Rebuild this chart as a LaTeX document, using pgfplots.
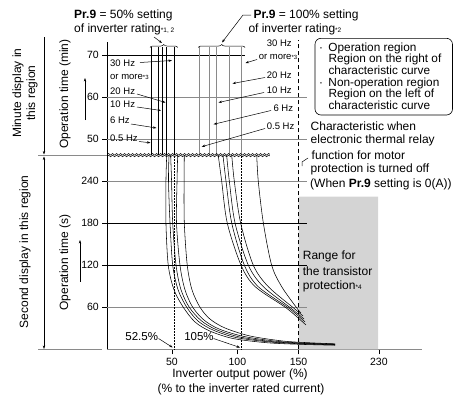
\documentclass[border=0pt]{standalone}
\usepackage{fontspec}
\setmainfont{Liberation Sans}
\usepackage{pgfplots}
\pgfplotsset{compat=1.18}
\usetikzlibrary{arrows.meta,decorations.pathreplacing,decorations.pathmorphing}
\definecolor{rg}{HTML}{D4D4D4}
\definecolor{gl}{HTML}{8A8A8A}
\newcommand{\fs}[1]{\fontsize{#1bp}{#1bp}\selectfont}
\tikzset{ar/.style={-{Stealth[length=3.5bp,width=2.4bp]}, line width=0.5bp}}
\begin{document}
\begin{tikzpicture}
\path[use as bounding box] (0bp,0bp) rectangle (454bp,-396bp);
\begin{axis}[
  at={(107.3bp,-349.3bp)}, anchor=south west, scale only axis,
  x=1.275bp, y=0.701bp,
  xmin=0, xmax=246.6, ymin=0, ymax=439,
  axis x line=bottom, axis y line=left,
  x axis line style={-, draw=gl, line width=0.8bp},
  y axis line style={-, line width=0.7bp},
  xtick={50.7,102,150,213},
  xticklabels={\textrm{50},\textrm{100},\textrm{150},\textrm{230}},
  ytick={60,120,180,240,299.6,359.5,419.6},
  yticklabels={\textrm{60},\textrm{120},\textrm{180},\textrm{240},\textrm{50},\textrm{60},\textrm{70}},
  tick align=outside, major tick length=5bp,
  tick style={black, line width=0.5bp},
  ticklabel style={font=\fs{10.5}},
  clip=false,
]
% transistor protection range
\addplot[fill=rg, draw=none] coordinates {(150,0) (150,217.7) (212.5,217.7) (212.5,0)} \closedcycle;
% horizontal grid lines
\addplot[gl, line width=0.8bp] coordinates {(0,60) (156.6,60)};
\addplot[black, line width=0.7bp] coordinates {(0,120) (156.6,120)};
\addplot[black, line width=0.7bp] coordinates {(0,180) (156.6,180)};
\addplot[gl, line width=0.8bp] coordinates {(0,240) (156.6,240)};
\addplot[gl, line width=0.8bp] coordinates {(0,299.6) (156.6,299.6)};
\addplot[gl, line width=0.8bp] coordinates {(0,359.5) (156.6,359.5)};
\addplot[black, line width=0.7bp] coordinates {(0,419.6) (108,419.6)};
% minute region: 50% setting (black)
\addplot[black, line width=0.7bp] coordinates {(34.8,277) (34.8,431.2)};
\addplot[black, line width=0.7bp] coordinates {(40.0,277) (40.0,431.2)};
\addplot[black, line width=0.7bp] coordinates {(43.1,277) (43.1,431.2)};
\addplot[black, line width=0.7bp] coordinates {(46.6,277) (46.6,431.2)};
\addplot[black, line width=0.7bp] coordinates {(52.5,277) (52.5,431.2)};
% minute region: 100% setting (gray)
\addplot[gl, line width=1bp] coordinates {(72.7,277) (72.7,431.2)};
\addplot[gl, line width=1bp] coordinates {(80.5,277) (80.5,431.2)};
\addplot[gl, line width=1bp] coordinates {(85.8,277) (85.8,431.2)};
\addplot[gl, line width=1bp] coordinates {(96.2,277) (96.2,431.2)};
\addplot[gl, line width=1bp] coordinates {(105.5,277) (105.5,431.2)};
% reference lines
\addplot[black, densely dotted, line width=0.5bp] coordinates {(52.5,0) (52.5,277)};
\addplot[black, densely dotted, line width=0.5bp] coordinates {(105,0) (105,277)};
\addplot[black, dash pattern=on 4bp off 3bp, line width=0.6bp] coordinates {(150,0) (150,441)};
% second region: 50% setting curves
\addplot[black, line width=0.55bp, smooth] coordinates {(46.6,277) (46.0,240) (46.0,180) (47.8,120) (52.3,85) (59.6,60) (68.8,39) (80.5,26) (98.6,15.4) (125,9.4) (151,7.1) (178.6,5.8)};
\addplot[black, line width=0.55bp, smooth] coordinates {(48.4,277) (48.0,240) (49.2,180) (51.3,120) (55.5,85) (62.3,60) (71.1,40.4) (82.9,27.5) (100.9,16.8) (127.6,10.4) (152.7,7.8) (178.6,6.4)};
\addplot[black, line width=0.55bp, smooth] coordinates {(49.7,277) (50.4,240) (51.3,180) (53.9,120) (57.8,85) (64.3,60) (73.5,41.1) (85.3,28.2) (104.1,17.5) (130.2,10.8) (154.3,8.3) (178.6,6.8)};
\addplot[black, line width=0.55bp, smooth] coordinates {(55.2,277) (54.7,240) (54.3,180) (57.0,120) (60.9,85) (67.0,60) (75.8,41.8) (87.6,29) (107.2,18.3) (133.1,11.4) (155.8,8.7) (178.6,7.4)};
\addplot[black, line width=0.55bp, smooth] coordinates {(60.4,277) (60.2,240) (60.4,180) (62.7,120) (66.4,85) (72.7,60) (80.5,43.2) (92.3,30.4) (111.9,19) (137.8,11.8) (159,9.3) (178.6,7.8)};
% second region: 100% setting curves
\addplot[black, line width=0.55bp, smooth] coordinates {(87.0,277) (89.7,240) (94.1,180) (104.9,120) (116.0,89.3) (140.7,58.5) (155.8,34.7)};
\addplot[black, line width=0.55bp, smooth] coordinates {(90.7,277) (93.1,240) (97.6,180) (107.5,120) (118.4,89.3) (142.5,58.5) (155.1,39)};
\addplot[black, line width=0.55bp, smooth] coordinates {(93.6,277) (95.7,240) (100.2,180) (110.6,120) (122.4,89.3) (144.1,58.5) (154.3,43.2)};
\addplot[black, line width=0.55bp, smooth] coordinates {(97.6,277) (99.6,240) (104.6,180) (114.5,120) (126.3,89.3) (146.4,58.5) (153.5,47.5)};
\addplot[black, line width=0.55bp, smooth] coordinates {(117.2,277) (118.4,240) (122.4,180) (128.9,120) (136.8,89.3) (148.8,58.5) (151.9,51.8)};
% axis break
\draw[decorate, decoration={snake, amplitude=0.8bp, segment length=4bp}, line width=0.5bp] (axis cs:0,278.2) -- (axis cs:127.6,278.2);
\draw[decorate, decoration={snake, amplitude=0.8bp, segment length=4bp}, line width=0.5bp] (axis cs:0,275.8) -- (axis cs:127.6,275.8);
\end{axis}
\begin{scope}[x=1bp, y=-1bp]
% left side
\draw[gl, line width=0.8bp] (38,155.5) -- (107,155.5);
\draw[gl, line width=0.8bp] (38,349.5) -- (102,349.5);
\draw[ar] (44,37) -- (44,154.5);
\draw[{Stealth[length=3.5bp,width=2.4bp]}-{Stealth[length=3.5bp,width=2.4bp]}, line width=0.5bp] (44,156.5) -- (44,349);
\draw[ar] (85,120) -- (85,78);
\draw[ar] (80,281.7) -- (80,240);
\node[rotate=90, align=center, font=\fs{12}] at (25,93) {Minute display in\\[2bp]this region};
\node[rotate=90, font=\fs{12}] at (25,251.7) {Second display in this region};
\node[rotate=90, font=\fs{12}] at (65,94) {Operation time (min)};
\node[rotate=90, font=\fs{12}] at (65,262.5) {Operation time (s)};
% top titles
\node[anchor=west, inner sep=0, font=\fs{12}] at (74,15) {\textbf{Pr.9} = 50\% setting};
\node[anchor=west, inner sep=0, font=\fs{12}] at (74,29.3) {of inverter rating{\fs{6.5}*1, 2}};
\node[anchor=west, inner sep=0, font=\fs{12}] at (253.3,15) {\textbf{Pr.9} = 100\% setting};
\node[anchor=west, inner sep=0, font=\fs{12}] at (248.3,29.3) {of inverter rating{\fs{6.5}*2}};
\draw[ar] (154,37) -- (162,43);
\draw[ar] (251,15) -- (243,15) -- (222,42.5);
\draw[decorate, decoration={brace, amplitude=3bp}, line width=0.5bp] (150,47.5) -- (177.7,47.5);
\draw[decorate, decoration={brace, amplitude=3bp}, line width=0.5bp] (198.3,47.5) -- (245,47.5);
% left group labels
\node[anchor=west, inner sep=0, font=\fs{9.5}] at (110,63.3) {30 Hz};
\node[anchor=west, inner sep=0, font=\fs{9.5}] at (110,77) {or more{\fs{6}*3}};
\node[anchor=west, inner sep=0, font=\fs{9.5}] at (110,91) {20 Hz};
\node[anchor=west, inner sep=0, font=\fs{9.5}] at (110,104.5) {10 Hz};
\node[anchor=west, inner sep=0, font=\fs{9.5}] at (110,120) {6 Hz};
\node[anchor=west, inner sep=0, font=\fs{9.5}] at (110,138.5) {0.5 Hz};
\draw[ar] (140,62.5) -- (172,60.5);
\draw[ar] (137,94) -- (165.5,102.5);
\draw[ar] (137,107) -- (161,110.5);
\draw[ar] (131,124) -- (156.5,128);
\draw[ar] (139,141.5) -- (150.5,142.8);
% right group labels
\node[anchor=west, inner sep=0, font=\fs{9.5}] at (266.7,43.3) {30 Hz};
\node[anchor=west, inner sep=0.6bp, fill=white, font=\fs{9.5}] at (258,57.3) {or more{\fs{6}*3}};
\node[anchor=west, inner sep=0, font=\fs{9.5}] at (266.7,75) {20 Hz};
\node[anchor=west, inner sep=0, font=\fs{9.5}] at (266.7,90) {10 Hz};
\node[anchor=west, inner sep=0, font=\fs{9.5}] at (273.3,108.3) {6 Hz};
\node[anchor=west, inner sep=0, font=\fs{9.5}] at (266.7,126) {0.5 Hz};
\draw[ar] (257,59.5) -- (245.5,63);
\draw[ar] (265,77.5) -- (232.5,83.5);
\draw[ar] (264,92.5) -- (218.5,102.5);
\draw[ar] (271,110.5) -- (213.5,124.3);
\draw[ar] (265,128.5) -- (201.7,146.7);
% box
\draw[rounded corners=6bp, line width=0.6bp] (315,38.3) rectangle (452.5,115);
\node[anchor=north west, inner sep=0, align=left, font=\fontsize{11.8bp}{11.65bp}\selectfont] at (319,42.5)
  {\makebox[9.3bp][l]{·}Operation region\\
   \hspace*{9.3bp}Region on the right of\\
   \hspace*{9.3bp}characteristic curve\\
   \makebox[9.3bp][l]{·}Non-operation region\\
   \hspace*{9.3bp}Region on the left of\\
   \hspace*{9.3bp}characteristic curve};
% characteristic note
\node[anchor=west, inner sep=0, font=\fs{12}] at (310.5,126) {Characteristic when};
\node[anchor=west, inner sep=0, font=\fs{12}] at (310.5,140.6) {electronic thermal relay};
\node[anchor=west, inner sep=0, font=\fs{12}] at (311.5,155.2) {function for motor};
\node[anchor=west, inner sep=0, font=\fs{12}] at (310.5,169.7) {protection is turned off};
\node[anchor=west, inner sep=0, font=\fs{12}] at (310,184.3) {(When \textbf{Pr.9} setting is 0(A))};
\draw[line width=0.5bp] (308,158) -- (302,162) -- (302,166);
% transistor range
\node[anchor=west, inner sep=0, font=\fs{12}] at (302.7,256.7) {Range for};
\node[anchor=west, inner sep=0, font=\fs{12}] at (302.7,271.7) {the transistor};
\node[anchor=west, inner sep=0, font=\fs{12}] at (302.7,286.7) {protection{\fs{6.5}*4}};
% percent markers
\node[font=\fs{11.5}] at (141.7,337) {52.5\%};
\node[font=\fs{11.5}] at (199,337) {105\%};
\draw[ar] (158.5,338.5) -- (172.7,347.5);
\draw[ar] (213.5,338.5) -- (240,347.5);
% x axis title
\node[font=\fs{12}] at (240,374.5) {Inverter output power (\%)};
\node[font=\fs{12}] at (241,389) {(\% to the inverter rated current)};
\end{scope}
\end{tikzpicture}
\end{document}
